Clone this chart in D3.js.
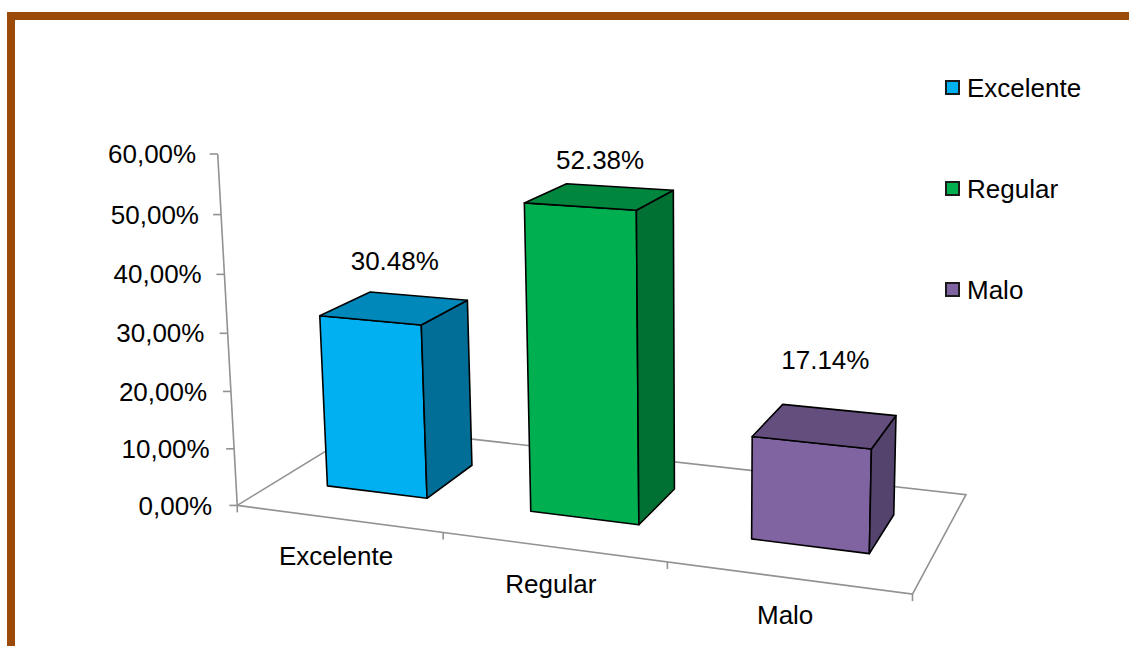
<!DOCTYPE html>
<html>
<head>
<meta charset="utf-8">
<script src="https://cdn.jsdelivr.net/npm/d3@7"></script>
<style>
  html, body { margin: 0; padding: 0; background: #fff; }
  svg { display: block; }
  text { font-family: "Liberation Sans", Arial, sans-serif; fill: #000; }
</style>
</head>
<body>
<svg id="chart" width="1129" height="646"></svg>
<script>
// ---- data ----
const categories = ["Excelente", "Regular", "Malo"];
const values = [0.3048, 0.5238, 0.1714];
const valueLabels = ["30.48%", "52.38%", "17.14%"];
const yTicks = [0, 0.1, 0.2, 0.3, 0.4, 0.5, 0.6];
const yTickLabels = ["0,00%", "10,00%", "20,00%", "30,00%", "40,00%", "50,00%", "60,00%"];

// ---- styles ----
const frontColors = ["#00B0F0", "#00B050", "#8064A2"];
const topColors   = ["#0088BB", "#00863D", "#634E7E"];
const sideColors  = ["#006E97", "#007033", "#54446D"];
const labelLift = [47, 37, 66];

const svg = d3.select("#chart");

// Perspective camera: calibrated from the plot box (floor corners, value-axis span)
// world: u = along categories [0,1], v = depth [0,1], w = height [0,1]
const anchors = [
  { p: [0, 0, 0],   s: [237.3, 505] },
  { p: [1, 0, 0],   s: [912.3, 594] },
  { p: [1, 1, 0],   s: [966, 494.3] },
  { p: [0, 1, 0],   s: [365, 427.4] },
  { p: [1/3, 0, 0], s: [443, 532.3] },
  { p: [2/3, 0, 0], s: [667.7, 562.7] },
  { p: [0, 0, 0.5], s: [227.7, 333.3] },
  { p: [0, 0, 1],   s: [217.7, 154] }
];
const NX = 600, NY = 400, NS = 400;

function solveCamera(pts) {
  const A = [], b = [];
  pts.forEach(({ p: [X, Y, Z], s }) => {
    const sx = (s[0] - NX) / NS, sy = (s[1] - NY) / NS;
    A.push([X, Y, Z, 1, 0, 0, 0, 0, -sx * X, -sx * Y, -sx * Z]); b.push(sx);
    A.push([0, 0, 0, 0, X, Y, Z, 1, -sy * X, -sy * Y, -sy * Z]); b.push(sy);
  });
  const n = 11;
  const M = Array.from({ length: n }, () => new Array(n + 1).fill(0));
  for (let r = 0; r < A.length; r++) {
    for (let i = 0; i < n; i++) {
      for (let j = 0; j < n; j++) M[i][j] += A[r][i] * A[r][j];
      M[i][n] += A[r][i] * b[r];
    }
  }
  for (let c = 0; c < n; c++) {
    let piv = c;
    for (let r = c + 1; r < n; r++) if (Math.abs(M[r][c]) > Math.abs(M[piv][c])) piv = r;
    [M[c], M[piv]] = [M[piv], M[c]];
    for (let r = 0; r < n; r++) {
      if (r === c) continue;
      const f = M[r][c] / M[c][c];
      for (let k = c; k <= n; k++) M[r][k] -= f * M[c][k];
    }
  }
  return M.map((row, i) => row[n] / row[i]);
}
const P = solveCamera(anchors);
function proj(u, v, w) {
  const d = P[8] * u + P[9] * v + P[10] * w + 1;
  const sx = (P[0] * u + P[1] * v + P[2] * w + P[3]) / d;
  const sy = (P[4] * u + P[5] * v + P[6] * w + P[7]) / d;
  return [sx * NS + NX, sy * NS + NY];
}

// ---- scales ----
const x = d3.scaleBand().domain(categories).range([0, 1]).paddingInner(0.5).paddingOuter(0.25);
const y = d3.scaleLinear().domain([0, 0.6]).range([0, 1]);
const depth = d3.scaleLinear().domain([0, 1]).range([0.3, 0.7]);

const line = d3.line();

// frame
svg.append("rect")
  .attr("x", 11).attr("y", 16).attr("width", 1300).attr("height", 800)
  .attr("fill", "none").attr("stroke", "#9C4A07").attr("stroke-width", 8);

// floor outline
const gridColor = "#929292";
const floor = [[0,0],[1,0],[1,1],[0,1]].map(([u, v]) => proj(u, v, 0));
svg.append("path")
  .attr("d", line(floor) + "Z")
  .attr("fill", "none").attr("stroke", gridColor).attr("stroke-width", 1.6);

// category ticks on the front floor edge
d3.range(0, categories.length + 1).forEach(k => {
  const [px, py] = proj(k / categories.length, 0, 0);
  svg.append("line")
    .attr("x1", px).attr("y1", py).attr("x2", px).attr("y2", py + 7)
    .attr("stroke", gridColor).attr("stroke-width", 1.6);
});

// value axis
svg.append("path")
  .attr("d", line([proj(0, 0, y(0)), proj(0, 0, y(0.6))]))
  .attr("fill", "none").attr("stroke", gridColor).attr("stroke-width", 1.6);
const gap = d3.scaleLinear().domain([0, 1]).range([25, 21.5]);
yTicks.forEach((t, i) => {
  const w = y(t);
  const [px, py] = proj(0, 0, w);
  svg.append("line")
    .attr("x1", px - 8).attr("y1", py).attr("x2", px).attr("y2", py)
    .attr("stroke", gridColor).attr("stroke-width", 1.6);
  svg.append("text")
    .attr("x", px - gap(w)).attr("y", py).attr("dy", "0.35em")
    .attr("text-anchor", "end").attr("font-size", 26)
    .text(yTickLabels[i]);
});

// bars
categories.forEach((c, i) => {
  const u0 = x(c), u1 = x(c) + x.bandwidth();
  const v0 = depth(0), v1 = depth(1);
  const w = y(values[i]);
  const g = svg.append("g").attr("stroke", "#000").attr("stroke-width", 1.6).attr("stroke-linejoin", "round");
  const face = (pts, fill) => g.append("path").attr("d", line(pts.map(p => proj(...p))) + "Z").attr("fill", fill);
  face([[u0, v0, 0], [u1, v0, 0], [u1, v0, w], [u0, v0, w]], frontColors[i]);
  face([[u1, v0, 0], [u1, v1, 0], [u1, v1, w], [u1, v0, w]], sideColors[i]);
  face([[u0, v0, w], [u1, v0, w], [u1, v1, w], [u0, v1, w]], topColors[i]);

  const [tx, ty] = proj((u0 + u1) / 2, 0.5, w);
  svg.append("text")
    .attr("x", tx).attr("y", ty - labelLift[i]).attr("dy", "0.35em")
    .attr("text-anchor", "middle").attr("font-size", 26)
    .text(valueLabels[i]);

  const [cx, cy] = proj((u0 + u1) / 2, 0, 0);
  svg.append("text")
    .attr("x", cx - 2).attr("y", cy + 37).attr("dy", "0.35em")
    .attr("text-anchor", "middle").attr("font-size", 26)
    .text(c);
});

// legend
const legend = svg.append("g").attr("transform", "translate(945,80)");
categories.forEach((c, i) => {
  const row = legend.append("g").attr("transform", `translate(0,${i * 101})`);
  row.append("rect").attr("x", 1).attr("y", 1).attr("width", 13).attr("height", 13)
    .attr("fill", frontColors[i]).attr("stroke", "#1a1a1a").attr("stroke-width", 2);
  row.append("text").attr("x", 22).attr("y", 7.5).attr("dy", "0.35em")
    .attr("font-size", 26).text(c);
});
</script>
</body>
</html>
